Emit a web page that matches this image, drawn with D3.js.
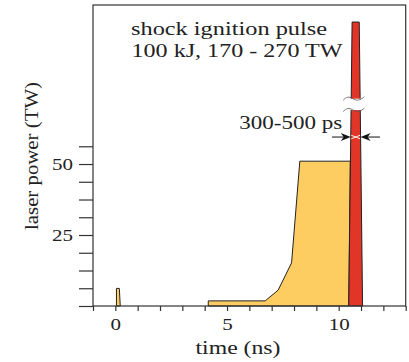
<!DOCTYPE html>
<html>
<head>
<meta charset="utf-8">
<script src="https://cdn.jsdelivr.net/npm/d3@7"></script>
<style>
  html, body { margin: 0; padding: 0; background: #fff; }
  text { font-family: 'Liberation Serif', 'Times New Roman', serif; fill: #222; }
</style>
</head>
<body>
<div id="pulse-chart"></div>
<script>
// time in ns, power in TW (axis units; the spike is drawn through a break)
const prePulse = [
  { t: 0.05, p: 0 }, { t: 0.05, p: 6.2 }, { t: 0.18, p: 6.2 }, { t: 0.22, p: 0 }
];
const mainPulse = [
  { t: 4.16, p: 0 }, { t: 4.16, p: 1.8 }, { t: 6.71, p: 1.8 }, { t: 7.29, p: 5.6 },
  { t: 7.89, p: 15.2 }, { t: 8.26, p: 51 }, { t: 10.52, p: 51 }, { t: 10.45, p: 0 }
];
const spikePulse = [
  { t: 10.45, p: 0 }, { t: 10.6, p: 100 }, { t: 10.92, p: 100 }, { t: 11.07, p: 0 }
];
const breakBand = [69, 73];
const arrowLevel = 59.5;
const arrowEnds = [9.7, 11.85];

const xTicks = d3.range(-1, 14);
const xLabels = [0, 5, 10];
const yTicks = d3.range(0, 57, 6.25);
const yLabels = [25, 50];

const width = 409;
const height = 362;
const margin = { left: 93, right: 3.3, top: 5, bottom: 56 };

const svg = d3.select('#pulse-chart')
  .append('svg')
  .attr('width', width)
  .attr('height', height);

const x = d3.scaleLinear().domain([-1, 13]).range([margin.left, width - margin.right]);
const y = d3.scaleLinear().domain([0, 106]).range([height - margin.bottom, margin.top]);

const area = d3.line()
  .x(d => x(d.t))
  .y(d => y(d.p));

const stroke = '#222';

// pulses
svg.append('path')
  .attr('d', area(prePulse) + 'Z')
  .attr('fill', '#fdcd62')
  .attr('stroke', stroke)
  .attr('stroke-width', 1);

svg.append('path')
  .attr('d', area(mainPulse) + 'Z')
  .attr('fill', '#fdcd62')
  .attr('stroke', stroke)
  .attr('stroke-width', 1)
  .attr('stroke-linejoin', 'round');

svg.append('path')
  .attr('d', area(spikePulse) + 'Z')
  .attr('fill', '#e03527')
  .attr('stroke', stroke)
  .attr('stroke-width', 1);

// axis break on the spike
const bx0 = x(10.2), bx1 = x(11.15);
const tilde = (yc) => {
  const w = bx1 - bx0;
  return d3.line().curve(d3.curveBasis)([
    [bx0, yc + 1.5], [bx0 + w * 0.2, yc - 2.5], [bx0 + w * 0.45, yc - 0.5],
    [bx0 + w * 0.55, yc + 1.5], [bx0 + w * 0.8, yc + 1.5], [bx1, yc - 2]
  ]);
};
svg.append('rect')
  .attr('x', bx0 + 3)
  .attr('y', y(breakBand[1]))
  .attr('width', bx1 - bx0 - 6)
  .attr('height', y(breakBand[0]) - y(breakBand[1]))
  .attr('fill', '#fff');
breakBand.forEach(v => {
  svg.append('path')
    .attr('d', tilde(y(v)))
    .attr('fill', 'none')
    .attr('stroke', '#555')
    .attr('stroke-width', 0.8);
});

// frame
svg.append('rect')
  .attr('x', margin.left)
  .attr('y', margin.top)
  .attr('width', width - margin.left - margin.right)
  .attr('height', height - margin.top - margin.bottom)
  .attr('fill', 'none')
  .attr('stroke', '#333')
  .attr('stroke-width', 1.2);

const styleTickText = g => g.selectAll('.tick text')
  .style('font-family', "'Liberation Serif', serif")
  .style('font-size', '17.5px')
  .attr('fill', '#222')
  .attr('lengthAdjust', 'spacingAndGlyphs')
  .attr('textLength', function () {
    const s = d3.select(this).text();
    return s ? s.length * 10.5 : null;
  });

// axes
svg.append('g')
  .attr('transform', 'translate(0,' + y(0) + ')')
  .call(d3.axisBottom(x)
    .tickValues(xTicks)
    .tickSize(5)
    .tickPadding(7)
    .tickFormat(d => xLabels.includes(d) ? d : ''))
  .call(g => g.select('.domain').remove())
  .call(g => g.selectAll('.tick line').attr('stroke', '#333').attr('stroke-width', 1.2))
  .call(styleTickText);

svg.append('g')
  .attr('transform', 'translate(' + margin.left + ',0)')
  .call(d3.axisLeft(y)
    .tickValues(yTicks)
    .tickSize(14)
    .tickPadding(6)
    .tickFormat(d => yLabels.includes(d) ? d : ''))
  .call(g => g.select('.domain').remove())
  .call(g => g.selectAll('.tick line').attr('stroke', '#333').attr('stroke-width', 1.2))
  .call(styleTickText);

// width arrows
const edgeAt = (a, b, p) => a.t + (b.t - a.t) * (p - a.p) / (b.p - a.p);
const tipL = x(edgeAt(spikePulse[0], spikePulse[1], arrowLevel));
const tipR = x(edgeAt(spikePulse[3], spikePulse[2], arrowLevel));
const ay = y(arrowLevel);

svg.append('line')
  .attr('x1', x(arrowEnds[0])).attr('x2', tipL - 6)
  .attr('y1', ay).attr('y2', ay)
  .attr('stroke', '#111').attr('stroke-width', 1);
svg.append('line')
  .attr('x1', x(arrowEnds[1])).attr('x2', tipR + 6)
  .attr('y1', ay).attr('y2', ay)
  .attr('stroke', '#111').attr('stroke-width', 1);
svg.append('path')
  .attr('d', `M${tipL},${ay} L${tipL - 10},${ay - 4} L${tipL - 7},${ay} L${tipL - 10},${ay + 4} Z`)
  .attr('fill', '#111');
svg.append('path')
  .attr('d', `M${tipR},${ay} L${tipR + 10},${ay - 4} L${tipR + 7},${ay} L${tipR + 10},${ay + 4} Z`)
  .attr('fill', '#111');
svg.append('path')
  .attr('d', `M${tipL + 0.5},${ay - 1.8} L${tipR - 0.5},${ay + 1.8} M${tipL + 0.5},${ay + 1.8} L${tipR - 0.5},${ay - 1.8}`)
  .attr('stroke', '#fff')
  .attr('stroke-width', 0.9)
  .attr('fill', 'none');

// labels
const label = (txt, px, py, len, anchor) => svg.append('text')
  .attr('x', px)
  .attr('y', py)
  .attr('text-anchor', anchor || 'start')
  .attr('textLength', len)
  .attr('lengthAdjust', 'spacingAndGlyphs')
  .style('font-size', '19px')
  .text(txt);

label('shock ignition pulse', 131, 35, 196);
label('100 kJ, 170 - 270 TW', 131.5, 57, 211);
label('300-500 ps', 239.3, 128.5, 103);
label('time (ns)', 238, 354, 85, 'middle');

svg.append('text')
  .attr('transform', 'translate(38,156) rotate(-90)')
  .attr('text-anchor', 'middle')
  .attr('textLength', 148)
  .attr('lengthAdjust', 'spacingAndGlyphs')
  .style('font-size', '19px')
  .text('laser power (TW)');
</script>
</body>
</html>
